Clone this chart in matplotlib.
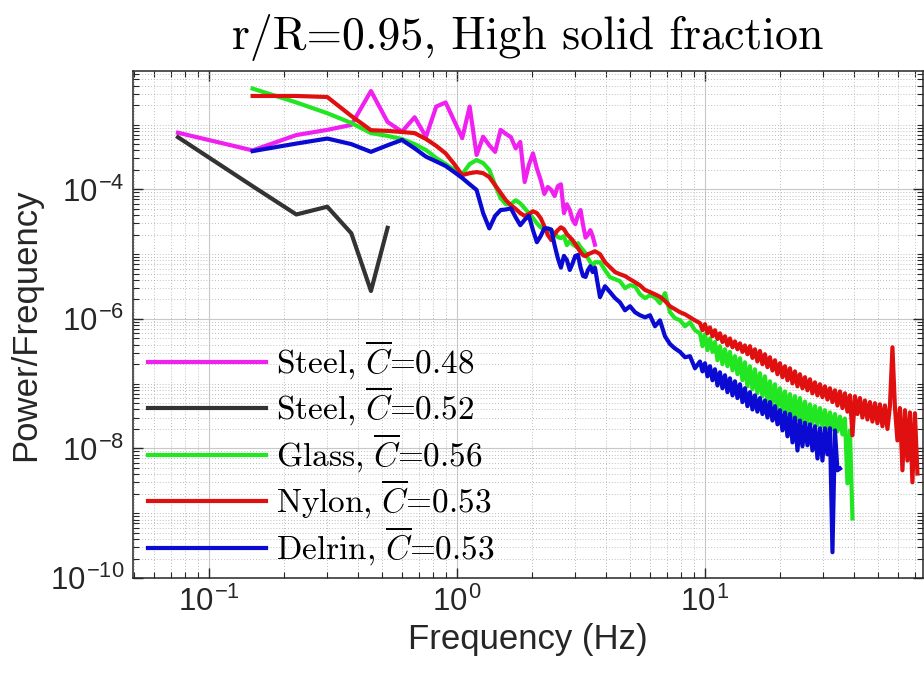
import numpy as np
import matplotlib
matplotlib.use("Agg")
import matplotlib.pyplot as plt
from matplotlib.ticker import FixedLocator, LogLocator, NullFormatter

plt.rcParams['font.family'] = ['Liberation Sans', 'DejaVu Sans']
plt.rcParams['mathtext.fontset'] = 'custom'
plt.rcParams['mathtext.rm'] = 'Liberation Sans'
plt.rcParams['mathtext.it'] = 'cmmi10'

# frequency bins (Hz)
low_freq = [0.075, 0.15, 0.225, 0.3, 0.375, 0.45, 0.525, 0.6, 0.675, 0.75,
            0.825, 0.9, 0.975, 1.05, 1.125, 1.2, 1.275, 1.35, 1.425, 1.5,
            1.575, 1.65, 1.725, 1.8, 1.875, 1.95, 2.025, 2.1, 2.175, 2.25,
            2.325, 2.4, 2.475, 2.55, 2.625, 2.7, 2.775, 2.85, 2.925, 3.0,
            3.075, 3.15, 3.225, 3.3, 3.375, 3.45, 3.525, 3.6]
mid_freq = [3.773, 3.953, 4.14, 4.337, 4.543, 4.759, 4.985, 5.222, 5.47, 5.73,
            6.002, 6.287, 6.585, 6.898, 7.226, 7.569, 7.929, 8.306, 8.7, 9.113]
hf_freq = [9.546, 9.77, 10.0, 10.235, 10.475, 10.72, 10.97, 11.23, 11.49, 11.76,
           12.04, 12.32, 12.61, 12.91, 13.21, 13.52, 13.84, 14.16, 14.49, 14.83,
           15.18, 15.54, 15.9, 16.27, 16.66, 17.05, 17.45, 17.86, 18.28, 18.71,
           19.15, 19.6, 20.06, 20.53, 21.01, 21.51, 22.01, 22.53, 23.06, 23.6,
           24.15, 24.72, 25.3, 25.89, 26.5, 27.12, 27.76, 28.41, 29.08, 29.76,
           30.46, 31.18, 31.91, 32.66, 33.42, 34.21, 35.01, 35.83, 36.67, 37.53,
           38.42, 39.32, 40.24, 41.19, 42.15, 43.14, 44.16, 45.19, 46.25, 47.34,
           48.45, 49.59, 50.75, 51.94, 53.16, 54.41, 55.69, 57.0, 58.33, 59.7,
           61.11, 62.54, 64.01, 65.51, 67.05, 68.62, 70.23, 71.88]

# Steel, C=0.48 (magenta)
steel48_p = [7.5e-4, 4.0e-4, 6.9e-4, 8.3e-4, 9.9e-4, 3.3e-3, 1.1e-3, 7.8e-4, 1.3e-3, 6.5e-4,
             1.9e-3, 2.2e-3, 1.14e-3, 6.2e-4, 1.9e-3, 3.4e-4, 6.5e-4, 4.8e-4, 3.8e-4, 8.3e-4,
             7.2e-4, 6.4e-4, 4.3e-4, 5.4e-4, 1.3e-4, 2.4e-4, 3.6e-4, 2.1e-4, 1.4e-4, 8.5e-5,
             1.09e-4, 9.8e-5, 7.9e-5, 1.12e-4, 1.2e-4, 4.3e-5, 5.9e-5, 4.8e-5, 3.4e-5, 2.9e-5,
             4.0e-5, 4.8e-5, 2.8e-5, 1.8e-5, 2.0e-5, 2.35e-5, 1.9e-5, 1.4e-5]

# Steel, C=0.52 (black)
steel52_p = [6.4e-4, 1.12e-4, 4.1e-5, 5.4e-5, 2.1e-5, 2.7e-6, 2.55e-5]

# Glass, C=0.56 (green)
glass_low = [3.6e-3, 2.2e-3, 1.5e-3, 1.06e-3, 7.4e-4, 6.7e-4, 6.0e-4, 5.0e-4, 4.05e-4, 3.05e-4,
             2.46e-4, 2.0e-4, 1.72e-4, 2.46e-4, 2.84e-4, 2.55e-4, 2.0e-4, 1.17e-4, 7.3e-5, 5.9e-5,
             5.9e-5, 6.8e-5, 6.1e-5, 5.1e-5, 4.3e-5, 3.6e-5, 3.0e-5, 2.6e-5, 2.43e-5, 2.27e-5,
             2.35e-5, 2.11e-5, 1.83e-5, 1.77e-5, 1.9e-5, 1.38e-5, 1.59e-5, 1.43e-5, 1.33e-5, 1.48e-5,
             1.28e-5, 1.15e-5, 1.04e-5, 8.7e-6, 7.5e-6, 6.5e-6, 7.5e-6]
glass_mid = [7.5e-6, 5.66e-6, 4.41e-6, 4.11e-6, 3.83e-6, 2.98e-6, 3.32e-6, 3.2e-6, 2.41e-6, 2.09e-6,
             2.32e-6, 2.16e-6, 1.75e-6, 2.5e-6, 1.27e-6, 1.025e-6, 9.54e-7, 7.71e-7, 8.89e-7, 6.69e-7]
glass_hf = [6.0e-7, 3.8e-7, 5.8e-7, 3.3e-7, 5.0e-7, 3.1e-7, 4.4e-7, 2.3e-7, 3.8e-7, 2.0e-7,
            3.4e-7, 1.86e-7, 3.1e-7, 1.61e-7, 2.66e-7, 1.4e-7, 2.47e-7, 1.13e-7, 2.14e-7, 9.1e-8,
            1.86e-7, 8.2e-8, 1.67e-7, 7.1e-8, 1.45e-7, 6.4e-8, 1.3e-7, 5.5e-8, 1.09e-7, 5.0e-8,
            9.8e-8, 4.3e-8, 8.5e-8, 3.9e-8, 7.6e-8, 3.5e-8, 6.9e-8, 3.1e-8, 6.4e-8, 2.8e-8,
            6.0e-8, 2.6e-8, 5.3e-8, 2.5e-8, 4.8e-8, 2.45e-8, 4.5e-8, 2.3e-8, 4.2e-8, 2.2e-8,
            3.9e-8, 2.05e-8, 3.6e-8, 2.0e-8, 3.4e-8, 1.84e-8, 3.1e-8, 1.65e-8, 2.9e-8, 2.9e-9,
            1.9e-8, 8.3e-10]

# Nylon, C=0.53 (red)
nylon_low = [2.77e-3, 2.77e-3, 2.67e-3, 1.36e-3, 8.2e-4, 8.0e-4, 7.7e-4, 7.4e-4, 6.0e-4, 4.7e-4,
             3.6e-4, 2.46e-4, 1.66e-4, 1.78e-4, 1.85e-4, 1.78e-4, 1.55e-4, 1.16e-4, 8.8e-5, 6.8e-5,
             5.7e-5, 5.0e-5, 4.3e-5, 3.9e-5, 4.15e-5, 4.6e-5, 4.3e-5, 3.6e-5, 2.7e-5, 1.97e-5,
             1.65e-5, 2.04e-5, 2.35e-5, 2.6e-5, 2.43e-5, 2.04e-5, 1.83e-5, 1.65e-5, 1.43e-5, 1.24e-5,
             1.07e-5, 9.65e-6, 9.3e-6, 1.0e-5, 1.03e-5, 1.07e-5, 1.11e-5]
nylon_mid = [1.0e-5, 7.5e-6, 6.3e-6, 5.3e-6, 4.9e-6, 4.6e-6, 4.1e-6, 3.7e-6, 3.3e-6, 2.8e-6,
             2.6e-6, 2.4e-6, 2.2e-6, 1.9e-6, 1.57e-6, 1.41e-6, 1.27e-6, 1.18e-6, 1.06e-6, 9.5e-7]
nylon_hf = [8.6e-7, 6.7e-7, 8.3e-7, 6.0e-7, 7.4e-7, 5.4e-7, 6.7e-7, 4.9e-7, 6.0e-7, 4.4e-7,
            5.4e-7, 3.9e-7, 5.0e-7, 3.65e-7, 4.5e-7, 3.4e-7, 4.2e-7, 3.1e-7, 3.9e-7, 2.85e-7,
            3.8e-7, 2.5e-7, 3.4e-7, 2.2e-7, 3.2e-7, 2.0e-7, 2.85e-7, 1.8e-7, 2.56e-7, 1.6e-7,
            2.3e-7, 1.4e-7, 2.07e-7, 1.26e-7, 1.86e-7, 1.13e-7, 1.73e-7, 1.01e-7, 1.55e-7, 9.1e-8,
            1.4e-7, 8.5e-8, 1.26e-7, 7.9e-8, 1.17e-7, 7.1e-8, 1.05e-7, 6.6e-8, 9.8e-8, 6.2e-8,
            9.1e-8, 5.7e-8, 8.5e-8, 5.2e-8, 7.9e-8, 4.6e-8, 7.6e-8, 4.2e-8, 7.1e-8, 3.7e-8,
            6.6e-8, 1.6e-8, 6.4e-8, 3.4e-8, 6.0e-8, 3.0e-8, 5.5e-8, 2.8e-8, 5.2e-8, 2.6e-8,
            5.0e-8, 2.45e-8, 4.8e-8, 2.2e-8, 4.6e-8, 2.0e-8, 4.5e-8, 3.65e-7, 4.3e-8, 1.33e-8,
            4.2e-8, 4.6e-9, 3.9e-8, 6.5e-9, 3.6e-8, 3.0e-9, 3.5e-8, 4.1e-9]

# Delrin, C=0.53 (blue)
delrin_low = [3.9e-4, 5.1e-4, 6.1e-4, 5.0e-4, 3.8e-4, 4.8e-4, 5.8e-4, 4.3e-4, 3.2e-4, 2.7e-4,
              2.3e-4, 1.85e-4, 1.5e-4, 1.2e-4, 9.8e-5, 4.3e-5, 2.5e-5, 3.9e-5, 4.8e-5, 4.9e-5,
              5.1e-5, 3.7e-5, 2.8e-5, 3.4e-5, 3.9e-5, 2.35e-5, 1.53e-5, 1.9e-5, 2.5e-5, 2.5e-5,
              2.4e-5, 1.38e-5, 8.7e-6, 6.2e-6, 9.4e-6, 8.1e-6, 5.7e-6, 7.2e-6, 9.4e-6, 9.7e-6,
              6.2e-6, 4.6e-6, 4.45e-6, 5.7e-6, 6.5e-6, 5.3e-6, 6.2e-6]
delrin_mid = [2.17e-6, 3.2e-6, 2.6e-6, 2.1e-6, 1.8e-6, 1.36e-6, 1.57e-6, 1.27e-6, 1.14e-6, 1.06e-6,
              1.14e-6, 7.7e-7, 9.5e-7, 5.4e-7, 4.1e-7, 3.5e-7, 3.1e-7, 2.56e-7, 2.66e-7, 1.73e-7]
delrin_hf = [2.2e-7, 1.55e-7, 2.07e-7, 1.3e-7, 1.86e-7, 1.13e-7, 1.67e-7, 9.4e-8, 1.5e-7, 8.5e-8,
             1.35e-7, 7.4e-8, 1.21e-7, 6.6e-8, 1.09e-7, 6.0e-8, 9.8e-8, 5.2e-8, 8.5e-8, 4.5e-8,
             7.4e-8, 4.0e-8, 6.6e-8, 3.7e-8, 6.0e-8, 3.4e-8, 5.5e-8, 3.0e-8, 5.2e-8, 2.7e-8,
             4.5e-8, 2.36e-8, 3.9e-8, 1.9e-8, 3.6e-8, 1.54e-8, 3.4e-8, 1.24e-8, 3.0e-8, 9.3e-9,
             2.7e-8, 1.08e-8, 2.5e-8, 1.12e-8, 2.36e-8, 9.3e-9, 2.2e-8, 7.0e-9, 2.05e-8, 6.5e-9,
             2.05e-8, 8.1e-9, 2.05e-8, 2.5e-10, 1.9e-8, 4.6e-9, 4.9e-9]

labels = [r'Steel,$\ \overline{C}$=0.48', r'Steel,$\ \overline{C}$=0.52',
          r'Glass,$\ \overline{C}$=0.56', r'Nylon,$\ \overline{C}$=0.53',
          r'Delrin,$\ \overline{C}$=0.53']
colors = ['#f020f0', '#333333', '#22e622', '#e01010', '#0a0ad2']

fig = plt.figure(figsize=(9.24, 6.79), dpi=100)
ax = fig.add_axes([133 / 924, 101 / 679, 790 / 924, 507 / 679])

lw = 3.0
ax.plot(low_freq, steel48_p, color=colors[0], lw=lw, label=labels[0])
ax.plot(low_freq[:len(steel52_p)], steel52_p, color=colors[1], lw=lw, label=labels[1])
ax.plot(low_freq[1:] + mid_freq + hf_freq[:len(glass_hf)], glass_low + glass_mid + glass_hf,
        color=colors[2], lw=lw, label=labels[2])
ax.plot(low_freq[1:] + mid_freq + hf_freq[:len(nylon_hf)], nylon_low + nylon_mid + nylon_hf,
        color=colors[3], lw=lw, label=labels[3])
ax.plot(low_freq[1:] + mid_freq + hf_freq[:len(delrin_hf)], delrin_low + delrin_mid + delrin_hf,
        color=colors[4], lw=lw, label=labels[4])

ax.set_xscale('log')
ax.set_yscale('log')
ax.set_xlim(0.0494, 75.7)
ax.set_ylim(1e-10, 6.73e-3)

ax.xaxis.set_major_locator(FixedLocator([0.1, 1, 10]))
ax.set_xticklabels([r'$10^{-1}$', r'$10^{0}$', r'$10^{1}$'])
ax.yaxis.set_major_locator(FixedLocator([1e-10, 1e-8, 1e-6, 1e-4]))
ax.set_yticklabels([r'$10^{-10}$', r'$10^{-8}$', r'$10^{-6}$', r'$10^{-4}$'])
ax.xaxis.set_minor_locator(LogLocator(base=10, subs=np.arange(1, 10) * 1.0, numticks=50))
ax.yaxis.set_minor_locator(LogLocator(base=10, subs=np.arange(1, 10) * 1.0, numticks=50))
ax.xaxis.set_minor_formatter(NullFormatter())
ax.yaxis.set_minor_formatter(NullFormatter())

ax.grid(True, which='major', color='#c8c8c8', lw=0.8, ls='-')
ax.grid(True, which='minor', color='#a8a8a8', lw=0.6, ls=(0, (1, 2.5)))
ax.set_axisbelow(True)
ax.tick_params(which='both', direction='in', top=True, right=True, colors='#262626')
ax.tick_params(which='major', length=7, width=1.0, labelsize=22.5, pad=6)
ax.tick_params(which='minor', length=4, width=0.8)
for sp in ax.spines.values():
    sp.set_color('#262626')
    sp.set_linewidth(1.1)

ax.set_xlabel('Frequency (Hz)', fontsize=25, color='#262626', labelpad=4)
ax.set_ylabel('Power/Frequency', fontsize=25, color='#262626', labelpad=6)
ax.set_title('r/R=0.95, High solid fraction', fontfamily='cmr10', fontsize=33, pad=16)

ax.legend(loc='lower left', bbox_to_anchor=(0.019, 0.02), frameon=False,
          prop={'family': 'cmr10', 'size': 24}, handlelength=3.55, handletextpad=0.3,
          labelspacing=0.1, borderpad=0, borderaxespad=0)

fig.savefig('out.png', dpi=100)
